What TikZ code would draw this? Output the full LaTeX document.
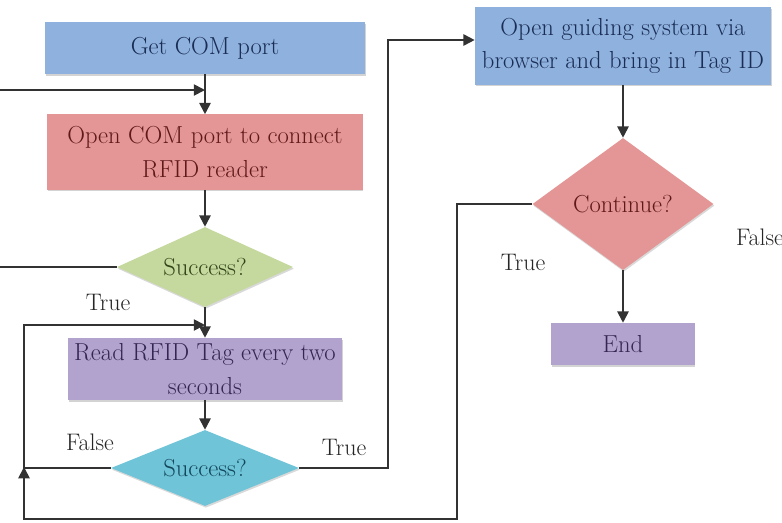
\documentclass[tikz,border=0pt]{standalone}
\usetikzlibrary{shapes.geometric,arrows.meta,shadows}

\definecolor{boxblue}{RGB}{143,177,221}
\definecolor{boxred}{RGB}{228,150,150}
\definecolor{boxgreen}{RGB}{197,216,157}
\definecolor{boxpurple}{RGB}{178,163,206}
\definecolor{boxcyan}{RGB}{112,196,216}
\definecolor{txtblue}{RGB}{25,45,85}
\definecolor{txtred}{RGB}{95,25,25}
\definecolor{txtgreen}{RGB}{48,68,24}
\definecolor{txtpurple}{RGB}{52,38,82}
\definecolor{txtcyan}{RGB}{18,70,90}
\definecolor{linegray}{RGB}{50,50,50}

\tikzset{
  flowbox/.style={rectangle, inner sep=0pt, align=center, font=\fontsize{17.5}{24}\selectfont,
    drop shadow={shadow xshift=0.6pt, shadow yshift=-1.2pt, opacity=0.35}},
  decision/.style={diamond, inner sep=0pt, shape aspect=2.2, align=center, font=\fontsize{17.5}{24}\selectfont,
    drop shadow={shadow xshift=0.6pt, shadow yshift=-1.2pt, opacity=0.3}},
  flowline/.style={draw=linegray, line width=1.3pt},
  flowarrow/.style={flowline, -{Triangle[width=8pt,length=8pt]}},
  branch/.style={font=\fontsize{17}{20}\selectfont, text=black!85}
}

\begin{document}
\begin{tikzpicture}[x=0.025cm, y=-0.025cm]
\useasboundingbox (0,0) rectangle (782,522);

% Left column
\node[flowbox, fill=boxblue, text=txtblue, minimum width=8cm, minimum height=1.3cm] (getport) at (205,48) {Get COM port};
\node[flowbox, fill=boxred, text=txtred, minimum width=7.875cm, minimum height=1.875cm] (openport) at (205,152) {Open COM port to connect\\RFID reader};
\node[decision, fill=boxgreen, text=txtgreen, minimum width=4.4cm, minimum height=2cm] (success1) at (205,267) {Success?};
\node[flowbox, fill=boxpurple, text=txtpurple, minimum width=6.85cm, minimum height=1.55cm] (readtag) at (205,369) {Read RFID Tag every two\\seconds};
\node[decision, fill=boxcyan, text=txtcyan, minimum width=4.7cm, minimum height=1.9cm] (success2) at (205,468) {Success?};

% Right column
\node[flowbox, fill=boxblue, text=txtblue, minimum width=7.4cm, minimum height=1.925cm] (guide) at (623,46) {Open guiding system via\\browser and bring in Tag ID};
\node[decision, fill=boxred, text=txtred, shape aspect=1.4, minimum width=4.525cm, minimum height=3.3cm] (continue) at (623,204) {Continue?};
\node[flowbox, fill=boxpurple, text=txtpurple, minimum width=3.575cm, minimum height=1.05cm] (endbox) at (623,344) {End};

% Junctions
\coordinate (join1) at (205,90);
\coordinate (join2) at (205,325);
\coordinate (loopA) at (-6,90);
\coordinate (loopB) at (24,325);
\coordinate (upA) at (388,40);
\coordinate (downA) at (457,519);
\coordinate (upB) at (24,467);

% Main flow
\draw[flowarrow] (getport) -- (openport);
\draw[flowarrow] (openport) -- (success1);
\draw[flowarrow] (success1) -- (readtag);
\draw[flowarrow] (readtag) -- (success2);
\draw[flowarrow] (guide) -- (continue);
\draw[flowarrow] (continue) -- (endbox);

% Loops
\draw[flowarrow] (success1.west) -| (loopA) -- (join1);
\draw[flowarrow] (success2.west) -| (loopB) -- (join2);
\draw[flowarrow] (success2.east) -| (upA) -- (upA -| guide.west);
\draw[flowarrow] (continue.west) -| (downA) -| (upB);

% Branch labels
\node[branch] (t1) at (108,302) {True};
\node[branch] (f2) at (90,442) {False};
\node[branch] (t2) at (344,447) {True};
\node[branch] (t3) at (523,262) {True};
\node[branch] (f3) at (760,237) {False};
\end{tikzpicture}
\end{document}
